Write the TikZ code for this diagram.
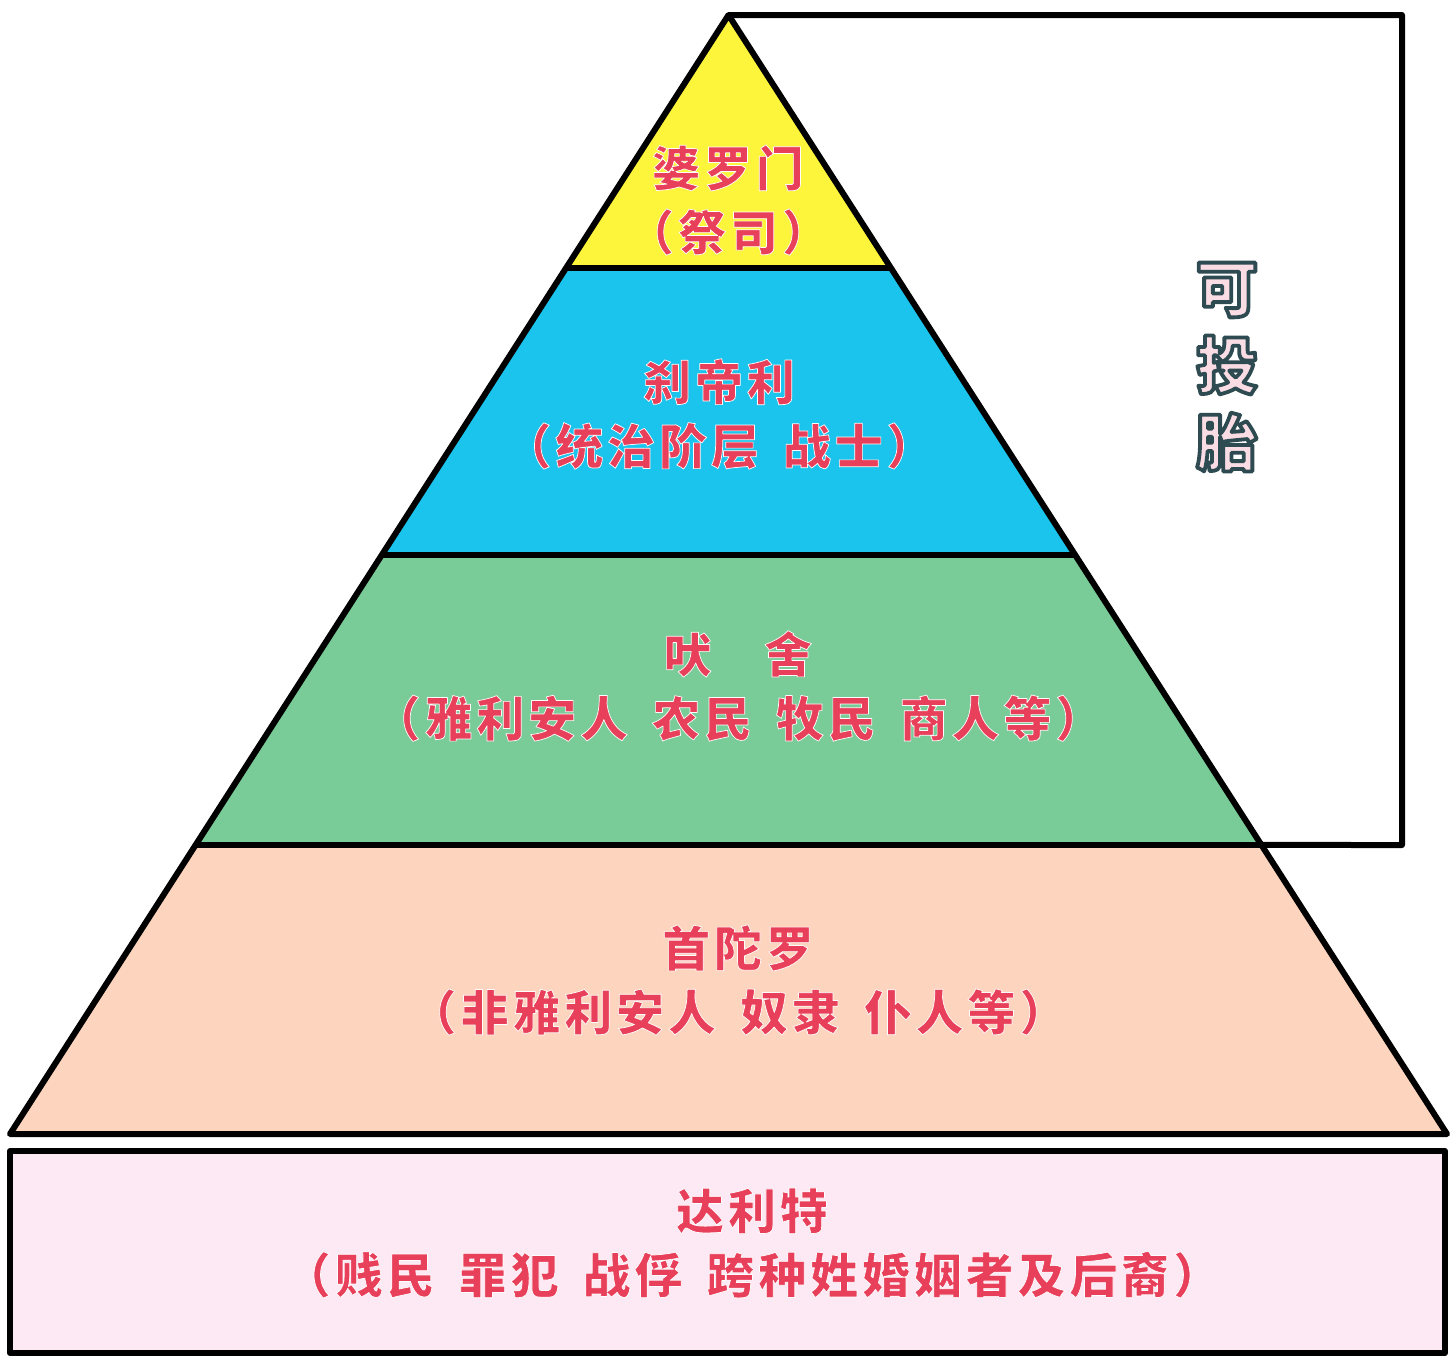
\documentclass[tikz,border=0pt]{standalone}
\usepackage{fontspec}
\newfontfamily\cjk{Noto Sans CJK SC}[LetterSpace=8]
\newfontfamily\cjkheavy{Noto Sans CJK SC}
\usetikzlibrary{calc}
\definecolor{castered}{HTML}{E8405A}
\definecolor{brahminyellow}{HTML}{FDF43C}
\definecolor{warriorblue}{HTML}{1BC4EC}
\definecolor{merchantgreen}{HTML}{79CB98}
\definecolor{servantpeach}{HTML}{FDD5BF}
\definecolor{dalitpink}{HTML}{FDE9F4}
\definecolor{rebornfill}{HTML}{FADDE4}
\definecolor{rebornedge}{HTML}{2F4B52}
\newcommand\castefont{\cjk\bfseries\fontsize{24}{32}\selectfont}
\newcommand\rebornfont{\cjkheavy\bfseries\fontsize{31}{38.5}\selectfont}
% stroked text: fill then outline
\newcommand\glow[1]{\special{pdf:literal direct 2 Tr 0.35 w 1 1 1 RG}#1\special{pdf:literal direct 0 Tr}}
\newcommand\darkrim[1]{\special{pdf:literal direct 2 Tr 1.9 w 0.184 0.294 0.322 RG}#1\special{pdf:literal direct 0 Tr}}
\begin{document}
\begin{tikzpicture}[x=0.5pt, y=-0.5pt, line width=3pt, line join=round]
    % Define Styles
        \tikzstyle{caste} = [
            align = center,
            text = castered,
            font = \castefont
        ]
        \tikzstyle{reborn} = [
            align = center,
            text = rebornfill,
            font = \rebornfont
        ]
    \useasboundingbox (0,0) rectangle (1453,1362);
    % Corner points
        \coordinate (apex) at (728.5,15);
        \coordinate (bl) at (10,1134);
        \coordinate (br) at (1447,1134);
        \coordinate (l1) at ($(apex)!0.2261!(bl)$);
        \coordinate (r1) at ($(apex)!0.2261!(br)$);
        \coordinate (l2) at ($(apex)!0.4826!(bl)$);
        \coordinate (r2) at ($(apex)!0.4826!(br)$);
        \coordinate (l3) at ($(apex)!0.7417!(bl)$);
        \coordinate (r3) at ($(apex)!0.7417!(br)$);
        \coordinate (boxtr) at (1402,15);
        \coordinate (boxbr) at (1402,845);
        \coordinate (dalittl) at (10,1151);
        \coordinate (dalitbr) at (1445,1353);
    % Fill layers
        \fill [brahminyellow] (apex) -- (l1) -- (r1) -- cycle;
        \fill [warriorblue] (l1) -- (l2) -- (r2) -- (r1) -- cycle;
        \fill [merchantgreen] (l2) -- (l3) -- (r3) -- (r2) -- cycle;
        \fill [servantpeach] (l3) -- (bl) -- (br) -- (r3) -- cycle;
        \fill [dalitpink] (dalittl) rectangle (dalitbr);
    % Draw outlines
        \draw (l1) -- (r1);
        \draw (l2) -- (r2);
        \draw (l3) -- (r3);
        \draw (bl) -- (apex) -- (br) -- cycle;
        \draw (apex) -- (boxtr) -- (boxbr) -- (r3);
        \draw (dalittl) rectangle (dalitbr);
    % Place nodes
        \node [caste] (brahmin) at (728,200) {%
            \glow{婆罗门} \\
            \glow{（祭司）}
        };
        \node [caste] (kshatriya) at (719,414) {%
            \glow{刹帝利} \\
            \glow{（统治阶层\enspace 战士）}
        };
        \node [caste] (vaishya) at (738,686) {%
            \glow{吠\hspace{1.1em}舍} \\
            \glow{（雅利安人\enspace 农民\enspace 牧民\enspace 商人等）}
        };
        \node [caste] (shudra) at (738,980) {%
            \glow{首陀罗} \\
            \glow{（非雅利安人\enspace 奴隶\enspace 仆人等）}
        };
        \node [caste] (dalit) at (752,1243) {%
            \glow{达利特} \\
            \glow{（贱民\enspace 罪犯\enspace 战俘\enspace 跨种姓婚姻者及后裔）}
        };
        \node [reborn] (rebirth) at (1227,367) {%
            \darkrim{可} \\
            \darkrim{投} \\
            \darkrim{胎}
        };
\end{tikzpicture}
\end{document}
